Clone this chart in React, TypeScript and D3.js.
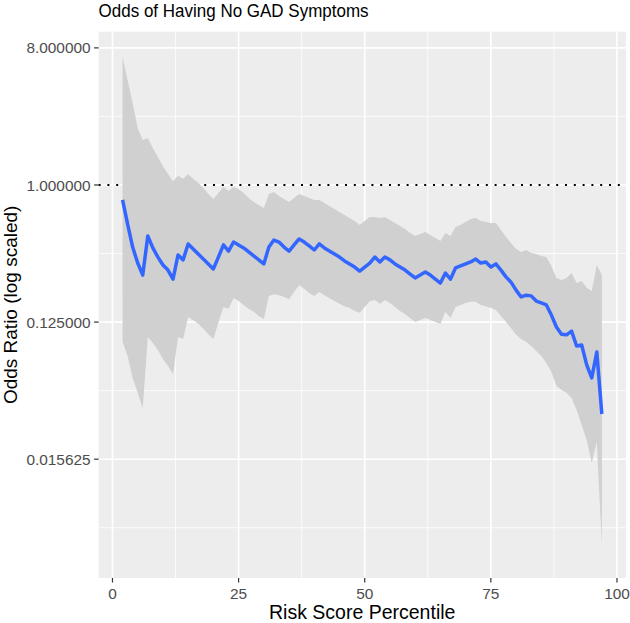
import * as d3 from "d3";

const percentile = [
  2, 3, 4, 5, 6, 7, 8, 9, 10, 11, 12, 13, 14, 15, 16, 17, 18, 19, 20, 21,
  22, 23, 24, 25, 26, 27, 28, 29, 30, 31, 32, 33, 34, 35, 36, 37, 38, 39, 40, 41,
  42, 43, 44, 45, 46, 47, 48, 49, 50, 51, 52, 53, 54, 55, 56, 57, 58, 59, 60, 61,
  62, 63, 64, 65, 66, 67, 68, 69, 70, 71, 72, 73, 74, 75, 76, 77, 78, 79, 80, 81,
  82, 83, 84, 85, 86, 87, 88, 89, 90, 91, 92, 93, 94, 95, 96, 97,
];

const oddsRatio = [
  0.797, 0.553, 0.39, 0.306, 0.255, 0.461, 0.385, 0.335, 0.297, 0.275,
  0.24, 0.346, 0.321, 0.409, 0.379, 0.351, 0.325, 0.302, 0.28, 0.335,
  0.403, 0.367, 0.421, 0.403, 0.385, 0.362, 0.341, 0.321, 0.302, 0.39,
  0.434, 0.421, 0.39, 0.367, 0.403, 0.441, 0.421, 0.397, 0.373, 0.409,
  0.385, 0.367, 0.351, 0.335, 0.316, 0.302, 0.288, 0.271, 0.288, 0.306,
  0.335, 0.311, 0.335, 0.321, 0.302, 0.288, 0.275, 0.259, 0.244, 0.255,
  0.267, 0.255, 0.24, 0.226, 0.263, 0.24, 0.284, 0.293, 0.302, 0.311,
  0.325, 0.306, 0.311, 0.288, 0.302, 0.275, 0.248, 0.229, 0.203, 0.183,
  0.188, 0.186, 0.172, 0.167, 0.162, 0.139, 0.116, 0.104, 0.103, 0.109,
  0.087, 0.0884, 0.0653, 0.0536, 0.0794, 0.031,
];

const upperCI = [
  6.97, 4.92, 3.47, 2.37, 1.98, 2.04, 1.75, 1.53, 1.33, 1.18,
  1.06, 1.15, 1.1, 1.18, 1.1, 1.03, 0.955, 0.872, 0.809, 0.886,
  0.97, 0.913, 0.97, 0.941, 0.886, 0.821, 0.773, 0.738, 0.705, 0.872,
  0.899, 0.846, 0.809, 0.773, 0.821, 0.872, 0.846, 0.821, 0.797, 0.797,
  0.761, 0.727, 0.695, 0.664, 0.634, 0.606, 0.579, 0.545, 0.579, 0.616,
  0.616, 0.606, 0.616, 0.588, 0.562, 0.537, 0.513, 0.483, 0.461, 0.476,
  0.49, 0.469, 0.448, 0.428, 0.483, 0.461, 0.529, 0.545, 0.571, 0.597,
  0.606, 0.579, 0.571, 0.562, 0.562, 0.505, 0.454, 0.415, 0.379, 0.362,
  0.373, 0.356, 0.351, 0.341, 0.335, 0.293, 0.244, 0.237, 0.244, 0.263,
  0.226, 0.233, 0.21, 0.2, 0.297, 0.255,
];

const lowerCI = [
  0.0926, 0.0747, 0.0536, 0.0428, 0.034, 0.0998, 0.0911, 0.082, 0.0714, 0.0643,
  0.0569, 0.0998, 0.0968, 0.135, 0.129, 0.122, 0.113, 0.104, 0.0968, 0.124,
  0.157, 0.153, 0.18, 0.172, 0.162, 0.153, 0.146, 0.137, 0.131, 0.186,
  0.191, 0.188, 0.183, 0.177, 0.197, 0.219, 0.207, 0.194, 0.186, 0.197,
  0.188, 0.18, 0.172, 0.165, 0.159, 0.155, 0.148, 0.144, 0.157, 0.172,
  0.175, 0.165, 0.175, 0.167, 0.157, 0.148, 0.141, 0.133, 0.125, 0.129,
  0.133, 0.129, 0.125, 0.122, 0.146, 0.133, 0.157, 0.162, 0.167, 0.17,
  0.17, 0.162, 0.159, 0.155, 0.15, 0.137, 0.125, 0.114, 0.103, 0.0968,
  0.0926, 0.087, 0.0806, 0.0747, 0.0673, 0.0587, 0.0475, 0.0447, 0.0428, 0.0395,
  0.033, 0.0262, 0.0209, 0.0148, 0.0203, 0.00424,
];

const xTicks = [0, 25, 50, 75, 100];
const xMinor = [12.5, 37.5, 62.5, 87.5];
const yTicks = [8, 1, 0.125, 0.015625];
const yMinor = [2.828427, 0.353553, 0.044194, 0.005524];

const FONT = "'Liberation Sans', Arial, Helvetica, sans-serif";

export default function App() {
  const width = 630;
  const height = 623;
  const panel = { left: 98.6, right: 625.8, top: 31.7, bottom: 578 };

  const x = d3.scaleLinear().domain([-2.75, 101.75]).range([panel.left, panel.right]);
  const y = d3
    .scaleLog()
    .base(2)
    .domain([Math.pow(2, -8.6), Math.pow(2, 3.354)])
    .range([panel.bottom, panel.top]);

  const rows = percentile.map((p, i) => ({
    p,
    est: oddsRatio[i],
    lo: lowerCI[i],
    hi: upperCI[i],
  }));

  const area = d3
    .area<(typeof rows)[number]>()
    .x((d) => x(d.p))
    .y0((d) => y(d.lo))
    .y1((d) => y(d.hi));

  const line = d3
    .line<(typeof rows)[number]>()
    .x((d) => x(d.p))
    .y((d) => y(d.est));

  const fmt = d3.format(".6f");

  return (
    <svg
      width={width}
      height={height}
      style={{ position: "absolute", left: 0, top: 0, background: "#fff" }}
    >
      <rect
        x={panel.left}
        y={panel.top}
        width={panel.right - panel.left}
        height={panel.bottom - panel.top}
        fill="#EDEDED"
      />
      {yMinor.map((v) => (
        <line key={"ym" + v} x1={panel.left} x2={panel.right} y1={y(v)} y2={y(v)} stroke="#fff" strokeWidth={0.8} />
      ))}
      {xMinor.map((v) => (
        <line key={"xm" + v} x1={x(v)} x2={x(v)} y1={panel.top} y2={panel.bottom} stroke="#fff" strokeWidth={0.8} />
      ))}
      {yTicks.map((v) => (
        <line key={"yg" + v} x1={panel.left} x2={panel.right} y1={y(v)} y2={y(v)} stroke="#fff" strokeWidth={1.6} />
      ))}
      {xTicks.map((v) => (
        <line key={"xg" + v} x1={x(v)} x2={x(v)} y1={panel.top} y2={panel.bottom} stroke="#fff" strokeWidth={1.6} />
      ))}

      <line
        x1={panel.left}
        x2={panel.right}
        y1={y(1)}
        y2={y(1)}
        stroke="#000"
        strokeWidth={2}
        strokeDasharray="2 6.8"
      />

      <path d={area(rows) ?? ""} fill="#D0D0D0" />
      <path
        d={line(rows) ?? ""}
        fill="none"
        stroke="#3366FF"
        strokeWidth={3.5}
        strokeLinejoin="round"
      />

      {yTicks.map((v) => (
        <g key={"yt" + v}>
          <line x1={panel.left - 4.5} x2={panel.left} y1={y(v)} y2={y(v)} stroke="#333" strokeWidth={1.2} />
          <text
            x={panel.left - 8}
            y={y(v)}
            dy="0.36em"
            textAnchor="end"
            fontFamily={FONT}
            fontSize={15.4}
            fill="#4D4D4D"
          >
            {fmt(v)}
          </text>
        </g>
      ))}
      {xTicks.map((v) => (
        <g key={"xt" + v}>
          <line x1={x(v)} x2={x(v)} y1={panel.bottom} y2={panel.bottom + 4.5} stroke="#333" strokeWidth={1.2} />
          <text
            x={x(v)}
            y={599}
            textAnchor="middle"
            fontFamily={FONT}
            fontSize={15.4}
            fill="#4D4D4D"
          >
            {v}
          </text>
        </g>
      ))}

      <text
        x={(panel.left + panel.right) / 2}
        y={618.5}
        textAnchor="middle"
        fontFamily={FONT}
        fontSize={19.5}
        fill="#000"
      >
        Risk Score Percentile
      </text>
      <text
        transform={`translate(17, ${(panel.top + panel.bottom) / 2}) rotate(-90)`}
        textAnchor="middle"
        fontFamily={FONT}
        fontSize={19}
        fill="#000"
      >
        Odds Ratio (log scaled)
      </text>
      <text
        x={panel.left}
        y={17}
        fontFamily={FONT}
        fontSize={19}
        textLength={270}
        lengthAdjust="spacingAndGlyphs"
        fill="#000"
      >
        Odds of Having No GAD Symptoms
      </text>
    </svg>
  );
}
